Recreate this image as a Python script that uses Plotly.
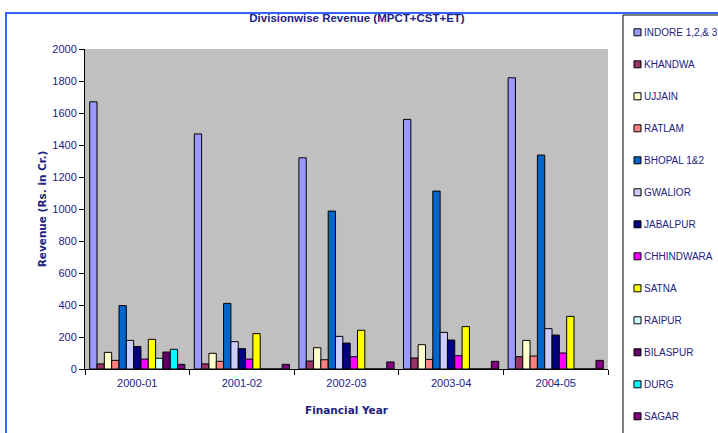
import plotly.graph_objects as go

years = ["2000-01", "2001-02", "2002-03", "2003-04", "2004-05"]
divisions = ["INDORE 1,2,& 3", "KHANDWA", "UJJAIN", "RATLAM", "BHOPAL 1&2", "GWALIOR",
             "JABALPUR", "CHHINDWARA", "SATNA", "RAIPUR", "BILASPUR", "DURG", "SAGAR"]

indore = [1670, 1469, 1320, 1560, 1820]
khandwa = [32, 32, 50, 69, 77]
ujjain = [104, 98, 133, 152, 179]
ratlam = [54, 48, 58, 60, 81]
bhopal = [396, 410, 987, 1112, 1337]
gwalior = [179, 171, 204, 229, 252]
jabalpur = [140, 127, 162, 181, 212]
chhindwara = [62, 62, 77, 83, 100]
satna = [185, 221, 242, 265, 329]
raipur = [67, 0, 0, 0, 0]
bilaspur = [106, 0, 0, 0, 0]
durg = [123, 0, 0, 0, 0]
sagar = [29, 29, 44, 48, 54]

series = [indore, khandwa, ujjain, ratlam, bhopal, gwalior, jabalpur,
          chhindwara, satna, raipur, bilaspur, durg, sagar]
colors = ["#9999FF", "#993366", "#FFFFCC", "#FF8080", "#0066CC", "#CCCCFF", "#000080",
          "#FF00FF", "#FFFF00", "#CCFFFF", "#660066", "#00FFFF", "#800080"]

W, H = 718, 433
L, R, T, B = 85, 110, 49, 64
PW, PH = W - L - R, H - T - B


def px_x(x):
    return (x - L) / PW


def px_y(y):
    return (H - B - y) / PH


navy = "#22227F"
fig = go.Figure()
for name, vals, col in zip(divisions, series, colors):
    fig.add_trace(go.Bar(
        x=years, y=vals, name=name, showlegend=False,
        marker=dict(color=col, line=dict(color="#000000", width=1)),
    ))

fig.update_layout(
    width=W, height=H,
    barmode="group", bargap=0.09, bargroupgap=0,
    paper_bgcolor="white", plot_bgcolor="#C0C0C0",
    margin=dict(l=L, r=R, t=T, b=B, autoexpand=False),
    title=dict(text="<b>Divisionwise Revenue (MPCT+CST+ET)</b>",
               font=dict(family="Liberation Sans, Arial, sans-serif", size=11.5, color=navy),
               x=357 / W, xanchor="center", y=1 - 18 / H, yanchor="middle"),
    font=dict(family="Liberation Sans, Arial, sans-serif", size=11, color=navy),
    xaxis=dict(type="category",
               title=dict(text="<b>Financial Year</b>",
                          font=dict(family="DejaVu Sans, Verdana, sans-serif", size=10.5, color=navy),
                          standoff=18),
               showline=True, linecolor="#000000", linewidth=1,
               ticks="outside", tickson="boundaries", ticklen=5, tickcolor="#000000",
               ticklabelstandoff=4,
               tickfont=dict(family="Liberation Sans, Arial, sans-serif", size=11, color=navy)),
    yaxis=dict(title=dict(text="<b>Revenue (Rs. in Cr.)</b>",
                          font=dict(family="DejaVu Sans, Verdana, sans-serif", size=10.5, color=navy),
                          standoff=3),
               range=[0, 2000], dtick=200, showgrid=False, zeroline=False,
               showline=True, linecolor="#000000", linewidth=1,
               ticks="outside", ticklen=5, tickcolor="#000000",
               tickfont=dict(family="Liberation Sans, Arial, sans-serif", size=11, color=navy)),
)

shapes = []
# slide frame lines (blue) at top and left
shapes.append(dict(type="line", xref="paper", yref="paper",
                   x0=px_x(5), x1=px_x(W + 5), y0=px_y(13), y1=px_y(13),
                   line=dict(color="#3366FF", width=2)))
shapes.append(dict(type="line", xref="paper", yref="paper",
                   x0=px_x(6), x1=px_x(6), y0=px_y(13), y1=px_y(H + 5),
                   line=dict(color="#3366FF", width=2)))
# legend box
shapes.append(dict(type="rect", xref="paper", yref="paper",
                   x0=px_x(623), x1=px_x(W + 10), y0=px_y(15), y1=px_y(H + 10),
                   line=dict(color="#000000", width=1), fillcolor="white", layer="below"))
annotations = []
for i, (name, col) in enumerate(zip(divisions, colors)):
    yc = 32.3 + 32.0 * i
    shapes.append(dict(type="rect", xref="paper", yref="paper",
                       x0=px_x(634), x1=px_x(641), y0=px_y(yc - 3.5), y1=px_y(yc + 3.5),
                       line=dict(color="#000000", width=1), fillcolor=col))
    annotations.append(dict(text=name, xref="paper", yref="paper", x=px_x(642), y=px_y(yc),
                            xanchor="left", yanchor="middle", showarrow=False,
                            font=dict(family="Liberation Sans, Arial, sans-serif", size=10, color=navy)))
fig.update_layout(shapes=shapes, annotations=annotations)

fig.write_html("out.html", config={"displayModeBar": False},
               post_script="document.body.style.margin='0';document.body.style.overflow='hidden';")
